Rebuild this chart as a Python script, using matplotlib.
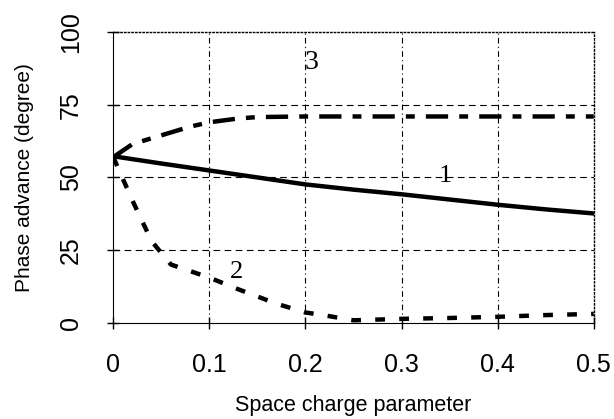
import matplotlib.pyplot as plt

# space charge parameter
x = [0.0, 0.05, 0.1, 0.15, 0.2, 0.25, 0.3, 0.35, 0.4, 0.45, 0.5]

# curve 1 (solid)
phase_1 = [57.3, 54.8, 52.4, 50.0, 47.6, 45.8, 44.2, 42.4, 40.6, 39.0, 37.6]
# curve 3 (long dashes)
x3 = [0.0, 0.02, 0.05, 0.08, 0.1, 0.13, 0.15, 0.2, 0.3, 0.4, 0.5]
phase_3 = [57.0, 61.5, 64.5, 67.5, 69.0, 70.3, 70.8, 71.0, 71.0, 71.0, 71.0]
# curve 2 (short dashes)
x2 = [0.0, 0.02, 0.04, 0.06, 0.1, 0.13, 0.17, 0.2, 0.22, 0.25, 0.3, 0.35, 0.4, 0.45, 0.5]
phase_2 = [57.0, 42.0, 28.0, 20.0, 15.5, 11.5, 6.5, 3.5, 2.5, 0.8, 1.3, 1.6, 2.0, 2.6, 3.0]

xticks = [0, 0.1, 0.2, 0.3, 0.4, 0.5]
xtick_labels = ['0', '0.1', '0.2', '0.3', '0.4', '0.5']
yticks = [0, 25, 50, 75, 100]

plt.rcParams['font.family'] = 'Liberation Sans'

fig = plt.figure(figsize=(6.14, 4.19), dpi=100)
ax = fig.add_axes([0.1845, 0.2300, 0.7825, 0.6930])

#grid lines
for yv in [25, 50, 75]:
    ax.axhline(yv, color='black', lw=0.8, ls=(0, (6, 4)), zorder=1)
for xv in [0.1, 0.2, 0.3, 0.4]:
    ax.axvline(xv, color='black', lw=0.8, ls=(0, (5, 3, 1, 3)), zorder=1)

ax.plot(x, phase_1, color='black', lw=3.2, solid_capstyle='round', zorder=3)
ax.plot(x3, phase_3, color='black', lw=3.2, ls=(0, (5, 2.5, 2, 2.5)), zorder=3)
ax.plot(x2, phase_2, color='black', lw=3.2, ls=(0, (2.2, 3.2)), zorder=3)

# curve numbers
ax.text(0.206, 89.5, '3', family='Liberation Serif', fontsize=20, ha='center', va='center')
ax.text(0.345, 50.5, '1', family='Liberation Serif', fontsize=19, ha='center', va='center')
ax.text(0.128, 17.5, '2', family='Liberation Serif', fontsize=19, ha='center', va='center')

ax.set_xlim(0, 0.5)
ax.set_ylim(0, 100)
ax.set_xticks(xticks)
ax.set_xticklabels(xtick_labels, fontsize=18)
ax.set_yticks(yticks)
ax.set_yticklabels([str(v) for v in yticks], fontsize=18, rotation=90, va='center')
ax.tick_params(direction='inout', length=8, width=1)
ax.tick_params(axis='x', pad=18)
ax.tick_params(axis='y', pad=18)

ax.spines['top'].set_linestyle(':')
ax.spines['right'].set_linestyle(':')
ax.spines['top'].set_linewidth(1.0)
ax.spines['right'].set_linewidth(1.0)

ax.set_xlabel('Space charge parameter', fontsize=15.5, labelpad=13)
ax.set_ylabel('Phase advance (degree)', fontsize=15, labelpad=18)

plt.savefig('out.png', dpi=100)
